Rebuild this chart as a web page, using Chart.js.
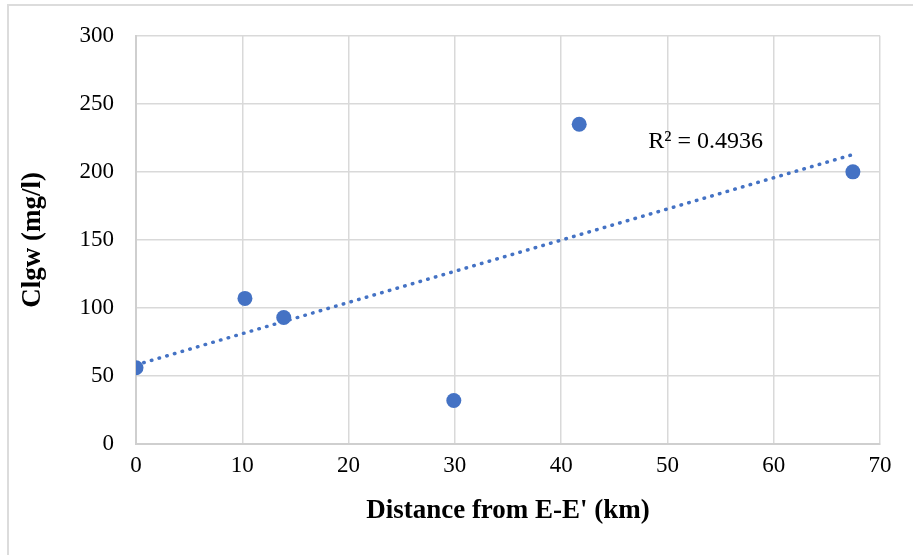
<!DOCTYPE html>
<html>
<head>
<meta charset="utf-8">
<script src="https://cdn.jsdelivr.net/npm/chart.js@4/dist/chart.umd.min.js"></script>
<style>
  html, body { margin: 0; padding: 0; background: #fff; }
  #wrap { position: relative; width: 913px; height: 555px; }
  #frame { position: absolute; left: 7px; top: 4px; right: 0; bottom: 0;
           border-left: 2px solid #dcdcdc; border-top: 2px solid #dcdcdc; pointer-events: none; }
  canvas { position: absolute; left: 0; top: 0; }
</style>
</head>
<body>
<div id="wrap">
  <canvas id="c" width="913" height="555"></canvas>
  <div id="frame"></div>
</div>
<script>
// ---- data ----
const distanceKm = [0, 10.25, 13.9, 29.9, 41.7, 67.45];
const clgw = [56, 107, 93, 32, 235, 200];
const xTicks = [0, 10, 20, 30, 40, 50, 60, 70];
const yTicks = [0, 50, 100, 150, 200, 250, 300];
const r2Label = 'R² = 0.4936';
const xTitle = "Distance from E-E' (km)";
const yTitle = 'Clgw (mg/l)';

// linear least-squares trendline (as the spreadsheet computes it)
const n = distanceKm.length;
const mx = distanceKm.reduce((a, b) => a + b, 0) / n;
const my = clgw.reduce((a, b) => a + b, 0) / n;
let sxy = 0, sxx = 0;
for (let i = 0; i < n; i++) { sxy += (distanceKm[i] - mx) * (clgw[i] - my); sxx += (distanceKm[i] - mx) ** 2; }
const slope = sxy / sxx, intercept = my - slope * mx;
const xMin = Math.min(...distanceKm), xMax = Math.max(...distanceKm);
const trend = [{ x: xMin, y: intercept + slope * xMin }, { x: xMax, y: intercept + slope * xMax }];

const blue = '#4472C4';
const FONT = "'Liberation Serif', 'Times New Roman', serif";

const r2Plugin = {
  id: 'r2',
  afterDatasetsDraw(chart) {
    const { ctx, scales: { x, y } } = chart;
    ctx.save();
    ctx.font = `24px ${FONT}`;
    ctx.fillStyle = '#000';
    ctx.textAlign = 'left';
    ctx.textBaseline = 'middle';
    ctx.fillText(r2Label, x.getPixelForValue(48.2), y.getPixelForValue(222));
    ctx.restore();
  }
};

new Chart(document.getElementById('c'), {
  type: 'scatter',
  data: {
    datasets: [
      {
        type: 'line',
        data: trend,
        borderColor: blue,
        borderWidth: 3.5,
        borderDash: [0.5, 7.5],
        borderCapStyle: 'round',
        pointRadius: 0,
        fill: false,
        order: 2
      },
      {
        data: distanceKm.map((v, i) => ({ x: v, y: clgw[i] })),
        backgroundColor: blue,
        borderWidth: 0,
        pointRadius: 7.5,
        order: 1
      }
    ]
  },
  options: {
    responsive: false,
    animation: false,
    layout: { padding: { left: 10, right: 33, top: 31, bottom: 0 } },
    plugins: { legend: { display: false }, tooltip: { enabled: false } },
    scales: {
      x: {
        type: 'linear',
        min: 0, max: 70,
        afterBuildTicks: s => { s.ticks = xTicks.map(v => ({ value: v })); },
        afterFit: s => { s.height = 111; },
        grid: { color: '#d9d9d9', lineWidth: 1.5, drawTicks: false },
        border: { color: '#cfcfcf', width: 2 },
        ticks: { color: '#000', font: { family: FONT, size: 23 }, padding: 8, maxRotation: 0 },
        title: { display: true, text: xTitle, color: '#000',
                 font: { family: FONT, size: 27, weight: 'bold' }, padding: { top: 0, bottom: 28 } }
      },
      y: {
        type: 'linear',
        min: 0, max: 300,
        afterBuildTicks: s => { s.ticks = yTicks.map(v => ({ value: v })); },
        afterFit: s => { s.width = 126; },
        grid: { color: '#d9d9d9', lineWidth: 1.5, drawTicks: false },
        border: { color: '#cfcfcf', width: 2 },
        ticks: { color: '#000', font: { family: FONT, size: 23 }, padding: 22 },
        title: { display: true, text: yTitle, color: '#000',
                 font: { family: FONT, size: 27, weight: 'bold' }, padding: { top: 7, bottom: 0 } }
      }
    }
  },
  plugins: [r2Plugin]
});
</script>
</body>
</html>
